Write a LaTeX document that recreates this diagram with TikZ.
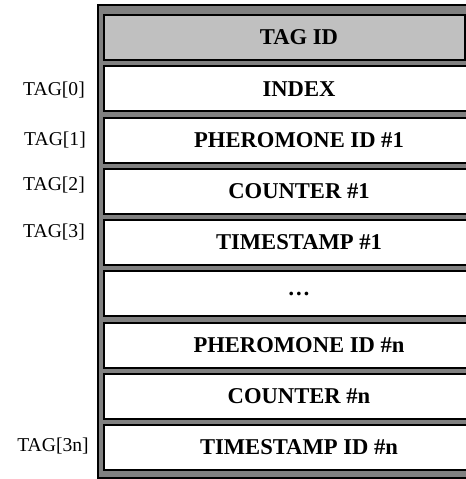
\documentclass[tikz,border=0pt]{standalone}
\usepackage{fontspec}
\setmainfont{Liberation Serif}
\usetikzlibrary{positioning}
\tikzstyle{field} = [draw, line width=1pt, fill=white, minimum width=195pt, minimum height=22.5pt, inner sep=0pt, font=\fontsize{11.3}{13}\selectfont\bfseries]
\tikzstyle{taglabel} = [inner sep=0pt, font=\fontsize{9.8}{12}\selectfont]
\definecolor{frame_gray}{RGB}{128,128,128}
\definecolor{id_gray}{RGB}{192,192,192}

\begin{document}
\begin{tikzpicture}
    [
        x=0.5pt, y=-0.5pt,
        node distance=25.625pt,
        frame/.style={draw=black, line width=0.6pt, fill=frame_gray},
        idbox/.style={draw, line width=1pt, fill=id_gray}
    ]

    \useasboundingbox (0,0) rectangle (466,479);
    \clip (0,0) rectangle (466,479);

    % outer frame
    \draw[frame] (98,5) rectangle (520,478);

    % header
    \draw[idbox] (104,15) rectangle (465,60);
    \node[font=\fontsize{11.3}{13}\selectfont\bfseries] (tag_id) at (299,37.5) {TAG ID};

    % fields
    \node[field] (index) at (299,88.75) {INDEX};
    \node[field, below of=index] (pher_1) {PHEROMONE ID \#1};
    \node[field, below of=pher_1] (count_1) {COUNTER \#1};
    \node[field, below of=count_1] (stamp_1) {TIMESTAMP \#1};
    \node[field, below of=stamp_1] (dots) {\dots};
    \node[field, below of=dots] (pher_n) {PHEROMONE ID \#n};
    \node[field, below of=pher_n] (count_n) {COUNTER \#n};
    \node[field, below of=count_n] (stamp_n) {TIMESTAMP ID \#n};

    % tag indices
    \node[taglabel] (tag_0) at (54,90) {TAG[0]};
    \node[taglabel] (tag_1) at (55,140) {TAG[1]};
    \node[taglabel] (tag_2) at (54,185) {TAG[2]};
    \node[taglabel] (tag_3) at (54,232) {TAG[3]};
    \node[taglabel] (tag_3n) at (53,446) {TAG[3n]};
\end{tikzpicture}
\end{document}
